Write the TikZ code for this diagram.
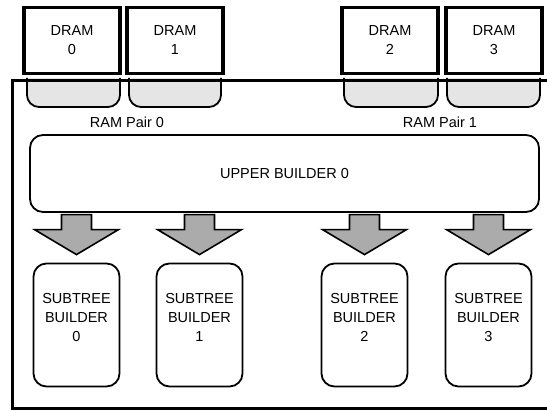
\documentclass[tikz,border=0pt]{standalone}
\usepackage{fontspec}
\setmainfont{Liberation Sans}
\begin{document}
\begin{tikzpicture}[x=1pt,y=-1pt,
  font=\fontsize{14.5}{19}\selectfont,
  dram/.style={draw,line width=3.5pt,fill=white,minimum width=96pt,minimum height=66pt,align=center,inner sep=0pt},
  slot/.style={draw,line width=1.8pt,fill=black!10,rounded corners=12pt},
  ubox/.style={draw,line width=1.8pt,rounded corners=13pt,minimum width=509pt,minimum height=77pt,inner sep=0pt},
  sbox/.style={draw,line width=1.8pt,rounded corners=13pt,minimum width=86pt,minimum height=123pt,inner sep=0pt,align=center},
  blockarrow/.style={draw,line width=1.6pt,fill=black!33,line join=miter}]
\useasboundingbox (0,0) rectangle (547,411);
\clip (0,0) rectangle (547,411);
% memory slots
\draw[slot] (27,78) -- (27,107) -- (120,107) -- (120,78);
\draw[slot] (129,78) -- (129,107) -- (221,107) -- (221,78);
\draw[slot] (344,78) -- (344,107) -- (438,107) -- (438,78);
\draw[slot] (447,78) -- (447,107) -- (540,107) -- (540,78);
% outer frame
\draw[line width=3pt] (12,80.5) rectangle (560,408.5);
% DRAMs
\node[dram] (d0) at (72,40.5) {DRAM\\0};
\node[dram] (d1) at (175,40.5) {DRAM\\1};
\node[dram] (d2) at (390,40.5) {DRAM\\2};
\node[dram] (d3) at (494,40.5) {DRAM\\3};
% labels
\node (p0) at (127,122) {RAM Pair 0};
\node (p1) at (440,122) {RAM Pair 1};
% upper builder
\node[ubox] (ub) at (284.5,173.5) {UPPER BUILDER 0};
% subtree builders
\newcommand{\sbtext}[1]{\raisebox{6pt}[\height][\depth]{\begin{tabular}{@{}c@{}}SUBTREE\\BUILDER\\#1\end{tabular}}}
\node[sbox] (s0) at (76.5,325) {\sbtext{0}};
\node[sbox] (s1) at (199.5,325) {\sbtext{1}};
\node[sbox] (s2) at (364.5,325) {\sbtext{2}};
\node[sbox] (s3) at (488.5,325) {\sbtext{3}};
% block arrows
\foreach \s in {s0,s1,s2,s3}{
  \draw[blockarrow] (\s.north) ++(0,-8) -- ++(-42,-25) -- ++(27,0) -- ++(0,-15) -- ++(30,0) -- ++(0,15) -- ++(27,0) -- cycle;
}
\end{tikzpicture}
\end{document}
